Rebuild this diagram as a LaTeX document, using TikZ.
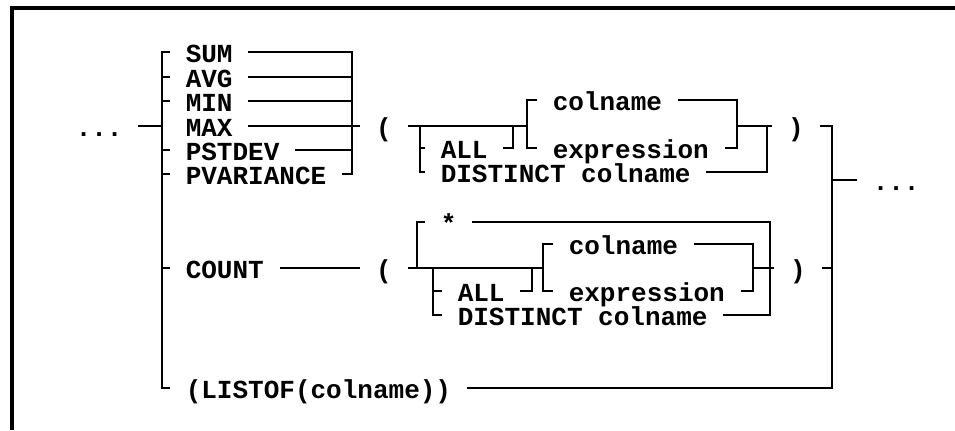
\documentclass[tikz,border=0pt]{standalone}
\usepackage{fontspec}
\setmonofont{Liberation Mono}
\begin{document}
\begin{tikzpicture}
    [%%%%%%%%%%%%%%%%%%%%%%%%%%%%%%
        x=0.025cm, y=-0.025cm,
        word/.style={font=\ttfamily\bfseries\fontsize{18.5}{20}\selectfont,
            inner xsep=11pt, inner ysep=0pt, text height=15.6pt, text depth=0pt, anchor=west},
        paren/.style={word, anchor=center},
        rail/.style={line width=1.7pt},
        frame/.style={line width=2.6pt},
    ]%%%%%%%%%%%%%%%%%%%%%%%%%%%%%%
\useasboundingbox (0,0) rectangle (955,430);
\draw[frame] (12,430) -- (12,8) -- (955,8);
% bracket columns
\coordinate (bl) at (162,126);
\coordinate (fr) at (352,126);
\coordinate (br) at (832,126);
\coordinate (a1) at (420,126);
\coordinate (e1) at (513,126);
\coordinate (c1) at (527,126);
\coordinate (d1) at (737,126);
\coordinate (o1) at (767,126);
\coordinate (s2) at (417,268);
\coordinate (a2) at (433,268);
\coordinate (e2) at (532,268);
\coordinate (c2) at (543,268);
\coordinate (d2) at (753,268);
\coordinate (o2) at (770,268);
% words
\node[word] (dotsL) at (60,126) {...};
\node[word] (sum) at (170,52) {SUM};
\node[word] (avg) at (170,77) {AVG};
\node[word] (min) at (170,101) {MIN};
\node[word] (max) at (170,126) {MAX};
\node[word] (pstdev) at (170,150) {PSTDEV};
\node[word] (pvar) at (170,174) {PVARIANCE};
\node[paren] (lp1) at (384,126) {(};
\node[word] (all1) at (425,148) {ALL};
\node[word] (dist1) at (425,172) {DISTINCT colname};
\node[word] (col1) at (537,100) {colname};
\node[word] (expr1) at (537,148) {expression};
\node[paren] (rp1) at (796,126) {)};
\node[word] (count) at (170,268) {COUNT};
\node[paren] (lp2) at (384,268) {(};
\node[word] (star) at (425,222) {*};
\node[word] (all2) at (442,291) {ALL};
\node[word] (dist2) at (442,315) {DISTINCT colname};
\node[word] (col2) at (553,244) {colname};
\node[word] (expr2) at (553,291) {expression};
\node[paren] (rp2) at (798,268) {)};
\node[word] (listof) at (170,388) {(LISTOF(colname))};
\node[word] (dotsR) at (857,180) {...};
% function choice
\draw[rail] (dotsL.east) -- (bl);
\draw[rail] (sum.west) -| (listof.west -| bl) -- (listof.west);
\draw[rail] (avg.west) -- (avg.west -| bl);
\draw[rail] (min.west) -- (min.west -| bl);
\draw[rail] (pstdev.west) -- (pstdev.west -| bl);
\draw[rail] (pvar.west) -- (pvar.west -| bl);
\draw[rail] (count.west) -- (count.west -| bl);
\draw[rail] (sum.east) -| (pvar.east -| fr) -- (pvar.east);
\draw[rail] (avg.east) -- (avg.east -| fr);
\draw[rail] (min.east) -- (min.east -| fr);
\draw[rail] (pstdev.east) -- (pstdev.east -| fr);
\draw[rail] (max.east) -- (lp1.west);
% argument of SUM ... PVARIANCE
\draw[rail] (lp1.east) -- (c1);
\draw[rail] (a1) |- (dist1.west);
\draw[rail] (all1.west) -- (all1.west -| a1);
\draw[rail] (all1.east) -| (e1);
\draw[rail] (col1.west) -| (expr1.west -| c1) -- (expr1.west);
\draw[rail] (col1.east) -- (col1.east -| d1) -- (expr1.east -| d1) -- (expr1.east);
\draw[rail] (d1) -- (rp1.west);
\draw[rail] (o1) |- (dist1.east);
% argument of COUNT
\draw[rail] (count.east) -- (lp2.west);
\draw[rail] (lp2.east) -- (c2);
\draw[rail] (s2) |- (star.west);
\draw[rail] (star.east) -| (dist2.east -| o2) -- (dist2.east);
\draw[rail] (a2) |- (dist2.west);
\draw[rail] (all2.west) -- (all2.west -| a2);
\draw[rail] (all2.east) -| (e2);
\draw[rail] (col2.west) -| (expr2.west -| c2) -- (expr2.west);
\draw[rail] (col2.east) -- (col2.east -| d2) -- (expr2.east -| d2) -- (expr2.east);
\draw[rail] (d2) -- (rp2.west);
% closing and exit
\draw[rail] (rp1.east) -| (listof.east -| br) -- (listof.east);
\draw[rail] (rp2.east) -- (rp2.east -| br);
\draw[rail] (dotsR.west) -- (dotsR.west -| br);
\end{tikzpicture}
\end{document}
